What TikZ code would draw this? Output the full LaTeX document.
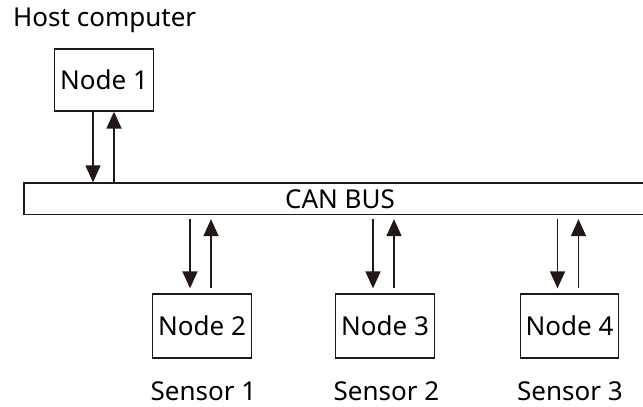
\documentclass[tikz,border=0pt]{standalone}
\usepackage{fontspec}
\setmainfont{Noto Sans}
\usetikzlibrary{arrows.meta,calc}
\definecolor{ink}{HTML}{231815}
\begin{document}
\begin{tikzpicture}[x=1pt,y=-1pt,
  every node/.style={font=\fontsize{26}{30}\selectfont, text=black},
  nodebox/.style={draw=ink, line width=1.3pt, minimum width=98.5pt, minimum height=63pt, inner sep=0pt},
  busbox/.style={draw=ink, line width=1.3pt, minimum width=632pt, minimum height=31.5pt, inner sep=0pt},
  arr/.style={draw=ink, line width=1.6pt, -{Triangle[width=15pt,length=17pt]}}]
\clip (0,0) rectangle (643,407);
\fill[white] (0,0) rectangle (643,407);
% text labels
\node[anchor=base west, inner sep=0pt] (host) at (13,26) {Host computer};
% nodes
\node[nodebox, minimum height=62pt] (n1) at (104,80) {Node 1};
\node[busbox] (bus) at (340,198.75) {CAN BUS};
\node[nodebox, minimum height=64pt] (n2) at (202,326) {Node 2};
\node[nodebox, minimum height=64pt] (n3) at (385,326) {Node 3};
\node[nodebox, minimum height=64pt] (n4) at (569.5,326) {Node 4};
\node[anchor=base, inner sep=0pt] (s1) at (203.5,400) {Sensor 1};
\node[anchor=base, inner sep=0pt] (s2) at (386.5,400) {Sensor 2};
\node[anchor=base, inner sep=0pt] (s3) at (570,400) {Sensor 3};
% node 1 arrows
\coordinate (a1d) at ($(n1.south)+(-11,0)$);
\coordinate (a1u) at ($(n1.south)+(10,0)$);
\draw[arr] (a1d) -- (a1d |- bus.north);
\draw[arr] (a1u |- bus.north) -- (a1u);
% lower arrows
\foreach \n in {n2,n3,n4}{
  \coordinate (d) at ($(\n.north)+(-12,0)$);
  \coordinate (u) at ($(\n.north)+(9,0)$);
  \draw[arr] ($(d |- bus.south)+(0,4)$) -- ($(d)+(0,-5)$);
  \draw[arr] ($(u)+(0,-5)$) -- ($(u |- bus.south)+(0,4)$);
}
\end{tikzpicture}
\end{document}
